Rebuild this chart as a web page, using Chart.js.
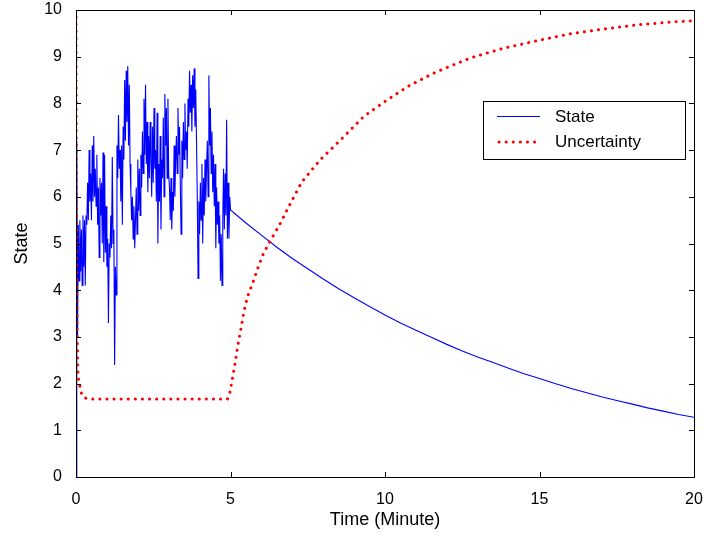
<!DOCTYPE html>
<html>
<head>
<meta charset="utf-8">
<script src="https://cdn.jsdelivr.net/npm/chart.js@4.4.1/dist/chart.umd.min.js"></script>
<style>
    html, body { margin: 0; padding: 0; background: #fff; }
    #wrap { width: 704px; height: 537px; }
</style>
</head>
<body>
<div id="wrap"><canvas id="grafica"></canvas></div>
<script>
// State: noisy part, one reading every 0.025 min from 0 to 5
const pasoRuido = 0.025;
const estadoRuido = [
    0.0, 7.2, 3.0, 5.4, 4.2, 5.5, 4.4, 5.3, 4.1, 5.6, 4.5, 5.5, 4.1, 5.6, 5.4, 6.3, 5.5, 7.0, 5.9, 6.5,
    5.5, 7.1, 5.9, 7.3, 6.0, 6.6, 5.8, 6.9, 5.4, 6.2, 4.7, 6.4, 5.6, 6.3, 5.0, 6.95, 4.6, 6.9, 4.8, 5.8,
    4.5, 5.1, 3.3, 5.0, 4.7, 5.6, 4.9, 6.85, 5.0, 5.3, 2.4, 4.5, 3.9, 7.1, 6.4, 7.75, 6.6, 7.0, 5.9, 7.1,
    5.4, 7.5, 6.8, 8.5, 7.2, 8.7, 7.6, 8.8, 7.1, 8.4, 6.7, 6.1, 5.5, 6.0, 5.1, 5.8, 4.9, 5.5, 6.2, 5.2,
    6.8, 5.7, 6.6, 5.6, 6.9, 6.2, 7.4, 6.5, 8.1, 6.9, 8.4, 6.7, 7.6, 6.1, 7.3, 6.4, 7.6, 6.8, 6.0, 7.5,
    6.3, 7.9, 6.6, 7.0, 5.9, 7.8, 5.0, 6.7, 5.9, 7.3, 5.3, 6.8, 6.4, 7.7, 6.0, 8.2, 7.1, 7.9, 6.4, 8.1,
    6.5, 6.2, 5.5, 6.4, 5.3, 6.1, 5.7, 7.1, 6.0, 6.8, 7.3, 6.5, 7.9, 6.9, 7.5, 6.3, 5.2, 7.2, 6.4, 7.6,
    6.8, 8.0, 7.0, 7.4, 6.6, 8.1, 7.5, 8.7, 7.8, 8.4, 7.4, 8.6, 7.9, 8.75, 7.5, 8.3, 7.2, 6.0, 4.25, 5.9,
    5.2, 6.3, 5.5, 6.7, 5.0, 6.4, 5.6, 6.8, 5.9, 6.6, 7.2, 6.0, 8.6, 7.1, 7.9, 6.5, 7.4, 6.1, 6.9, 5.8,
    6.7, 4.9, 6.2, 5.4, 5.9, 5.0, 5.6, 4.2, 5.2, 4.1, 5.5, 6.6, 5.3, 6.5, 5.6, 7.65, 5.1, 6.3, 5.1, 6.0,
    5.72
];

// State: smooth decay after minute 5
const tiempoCaida = [5.5, 6, 6.5, 7, 7.5, 8, 8.5, 9, 9.5, 10, 10.5, 11, 11.5, 12, 12.5, 13, 13.5, 14, 14.5, 15, 15.5, 16, 16.5, 17, 17.5, 18, 18.5, 19, 19.5, 20];
const estadoCaida = [5.44, 5.18, 4.92, 4.68, 4.46, 4.24, 4.03, 3.84, 3.65, 3.47, 3.30, 3.14, 2.99, 2.84, 2.70, 2.57, 2.45, 2.33, 2.21, 2.11, 2.00, 1.90, 1.81, 1.72, 1.64, 1.56, 1.48, 1.41, 1.34, 1.28];

// Uncertainty
const tiempoIncert = [0, 0.01, 0.02, 0.04, 0.06, 0.09, 0.12, 0.155, 0.2, 0.26, 0.35, 0.5, 4.9, 4.97, 5.05, 5.16, 5.23, 5.34, 5.45, 5.55, 5.72, 5.86, 6.07, 6.29, 6.61, 6.94, 7.31, 7.9, 8.61, 9.31, 10.06, 10.81, 11.68, 12.75, 13.83, 14.91, 15.99, 17.06, 18.14, 19.22, 20];
const incertidumbre = [10, 7.0, 5.0, 3.0, 2.25, 2.05, 1.97, 1.83, 1.75, 1.70, 1.68, 1.67, 1.67, 1.77, 2.06, 2.48, 2.79, 3.18, 3.59, 3.86, 4.15, 4.43, 4.79, 5.06, 5.43, 5.86, 6.32, 6.79, 7.25, 7.72, 8.07, 8.39, 8.68, 8.97, 9.18, 9.34, 9.49, 9.59, 9.68, 9.74, 9.77];

const ticksX = [0, 5, 10, 15, 20];
const ticksY = [0, 1, 2, 3, 4, 5, 6, 7, 8, 9, 10];
const nombres = ["State", "Uncertainty"];

const puntosEstado = estadoRuido.map((v, i) => ({ x: i * pasoRuido, y: v }))
    .concat(tiempoCaida.map((t, i) => ({ x: t, y: estadoCaida[i] })));
const puntosIncert = tiempoIncert.map((t, i) => ({ x: t, y: incertidumbre[i] }));

const fuente = "'Liberation Sans', Arial, sans-serif";

// caja, marcas hacia dentro y leyenda al estilo MATLAB
const marcoPlugin = {
    id: "marco",
    afterDraw(chart) {
        const ctx = chart.ctx;
        const a = chart.chartArea;
        const sx = chart.scales.x;
        const sy = chart.scales.y;
        ctx.save();
        ctx.strokeStyle = "#000";
        ctx.lineWidth = 1;
        ctx.beginPath();
        ticksX.forEach((v) => {
            const px = Math.round(sx.getPixelForValue(v)) + 0.5;
            ctx.moveTo(px, a.bottom); ctx.lineTo(px, a.bottom - 5);
            ctx.moveTo(px, a.top); ctx.lineTo(px, a.top + 5);
        });
        ticksY.forEach((v) => {
            const py = Math.round(sy.getPixelForValue(v)) + 0.5;
            ctx.moveTo(a.left, py); ctx.lineTo(a.left + 5, py);
            ctx.moveTo(a.right, py); ctx.lineTo(a.right - 5, py);
        });
        ctx.stroke();
        ctx.strokeRect(Math.round(a.left) + 0.5, Math.round(a.top) + 0.5, Math.round(a.right - a.left), Math.round(a.bottom - a.top));

        // leyenda
        const lx = 483, ly = 101, lw = 202, lh = 58;
        ctx.fillStyle = "#fff";
        ctx.fillRect(lx, ly, lw, lh);
        ctx.strokeRect(lx + 0.5, ly + 0.5, lw, lh);
        ctx.strokeStyle = "#0000ff";
        ctx.lineWidth = 1;
        ctx.beginPath();
        ctx.moveTo(497, 116.5); ctx.lineTo(540, 116.5);
        ctx.stroke();
        ctx.strokeStyle = "#ff0000";
        ctx.lineWidth = 3;
        ctx.lineCap = "round";
        ctx.setLineDash([0.1, 7]);
        ctx.beginPath();
        ctx.moveTo(499, 142); ctx.lineTo(541, 142);
        ctx.stroke();
        ctx.setLineDash([]);
        ctx.fillStyle = "#000";
        ctx.font = "17px " + fuente;
        ctx.textBaseline = "middle";
        ctx.fillText(nombres[0], 555, 117);
        ctx.fillText(nombres[1], 555, 142);
        ctx.restore();
    },
};

new Chart(document.getElementById("grafica"), {
    type: "line",
    data: {
        datasets: [
            {
                label: nombres[0],
                data: puntosEstado,
                borderColor: "#0000ff",
                borderWidth: 1.1,
                pointRadius: 0,
                tension: 0,
                order: 1,
            },
            {
                label: nombres[1],
                data: puntosIncert,
                borderColor: "#ff0000",
                borderWidth: 3,
                borderDash: [0.1, 7],
                borderCapStyle: "round",
                pointRadius: 0,
                tension: 0,
                order: 0,
            },
        ],
    },
    options: {
        responsive: true,
        maintainAspectRatio: false,
        animation: false,
        layout: { padding: { top: 0, right: 0, left: 0, bottom: 0 } },
        plugins: {
            legend: { display: false },
            tooltip: { enabled: false },
        },
        scales: {
            x: {
                type: "linear",
                min: 0,
                max: 20,
                afterBuildTicks: (s) => { s.ticks = ticksX.map((v) => ({ value: v })); },
                afterFit: (s) => { s.height = 60; s.paddingRight = 10; },
                grid: { display: false },
                border: { display: false },
                ticks: { color: "#000", font: { family: fuente, size: 16 }, padding: 5, maxRotation: 0 },
                title: {
                    display: true,
                    text: "Time (Minute)",
                    color: "#000",
                    font: { family: fuente, size: 18 },
                    padding: { top: 0, bottom: 6 },
                },
            },
            y: {
                type: "linear",
                min: 0,
                max: 10,
                afterBuildTicks: (s) => { s.ticks = ticksY.map((v) => ({ value: v })); },
                afterFit: (s) => { s.width = 76; s.paddingTop = 10; },
                grid: { display: false },
                border: { display: false },
                ticks: { color: "#000", font: { family: fuente, size: 16 }, padding: 6 },
                title: {
                    display: true,
                    text: "State",
                    color: "#000",
                    font: { family: fuente, size: 18 },
                    padding: { top: 11, bottom: 0 },
                },
            },
        },
    },
    plugins: [marcoPlugin],
});
</script>
</body>
</html>
